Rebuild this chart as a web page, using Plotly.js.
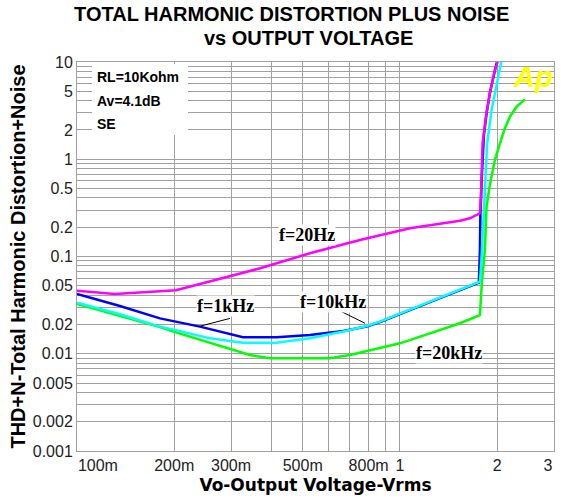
<!DOCTYPE html>
<html><head><meta charset="utf-8">
<script src="https://cdn.plot.ly/plotly-3.0.1.min.js"></script>
<style>html,body{margin:0;padding:0;background:#fff;}#chart{width:568px;height:499px;}</style>
</head><body><div id="chart"></div>
<script>
// ---- axis grid and tick labels ----
const xGridVals = [0.1,0.2,0.3,0.4,0.5,0.6,0.7,0.8,0.9,1,2,3];
// label anchor values (first/last nudged inward as in the reference)
const xLabelVals = [0.1161,0.2,0.3,0.5,0.8,1,2,2.872];
const xLabelText = ["100m","200m","300m","500m","800m","1","2","3"];
const yTickVals = [0.001,0.002,0.003,0.004,0.005,0.006,0.007,0.008,0.009,
                   0.01,0.02,0.03,0.04,0.05,0.06,0.07,0.08,0.09,
                   0.1,0.2,0.3,0.4,0.5,0.6,0.7,0.8,0.9,
                   1,2,3,4,5,6,7,8,9,10];
const yTickText = ["0.001","0.002","","","0.005","","","","",
                   "0.01","0.02","","","0.05","","","","",
                   "0.1","0.2","","","0.5","","","","",
                   "1","2","","","5","","","","",
                   "10"];

// ---- series (Vrms, %) ----
const f20Hz_x = [0.1,0.131,0.2025,0.258,0.369,0.526,0.752,1.074,1.534,1.647,1.769,1.781,1.790,1.803,1.846,1.899,1.968,2.016];
const f20Hz_y = [0.0445,0.0412,0.0450,0.0551,0.0756,0.108,0.148,0.195,0.233,0.247,0.278,0.40,0.641,1.46,2.74,4.77,8.27,10.5];

const f1k_x = [0.1,0.1358,0.1807,0.2403,0.3265,0.4151,0.5263,0.6677,0.7888,0.8673,1.2385,1.534,1.756,1.769,1.775,1.794,1.820,1.859,1.899,1.954,1.997];
const f1k_y = [0.0412,0.0310,0.0231,0.0190,0.0148,0.0148,0.0156,0.0171,0.0191,0.0212,0.0340,0.0452,0.0540,0.1166,0.267,0.689,1.78,3.13,4.80,7.35,10.0];

const f10k_x = [0.1,0.1358,0.1807,0.2025,0.2581,0.3265,0.4151,0.5263,0.6677,0.7888,0.8673,1.2385,1.534,1.769,1.788,1.794,1.833,1.863,1.922,1.993,2.065];
const f10k_y = [0.0335,0.0255,0.0190,0.0175,0.0144,0.0130,0.0130,0.0144,0.0169,0.0193,0.0214,0.0343,0.0456,0.0551,0.0920,0.1166,0.641,1.459,3.21,6.04,10.5];

const f20k_x = [0.1,0.1358,0.1807,0.2025,0.2581,0.3432,0.3960,0.6070,0.7002,1.0,1.2385,1.534,1.769,1.781,1.794,1.833,1.855,1.899,1.968,2.040,2.114,2.191,2.298,2.438];
const f20k_y = [0.0325,0.0245,0.0188,0.0166,0.0129,0.0097,0.0090,0.0090,0.0097,0.0128,0.0162,0.0206,0.0250,0.0421,0.0547,0.1166,0.325,0.543,0.982,1.459,2.08,2.74,3.47,4.13];

const seriesNames = ["f=1kHz","f=20kHz","f=10kHz","f=20Hz"];
const seriesColors = ["#0000ff","#00ff00","#00ffff","#ff00ff"];
const seriesX = [f1k_x,f20k_x,f10k_x,f20Hz_x];
const seriesY = [f1k_y,f20k_y,f10k_y,f20Hz_y];

const traces = seriesNames.map((n,i)=>({
  type:'scatter', mode:'lines', name:n, x:seriesX[i], y:seriesY[i],
  line:{color:seriesColors[i], width:2.5}, showlegend:false, hoverinfo:'skip'
}));

const gridC = '#a0a0a0';
const tickFont = {family:'Liberation Sans, Arial, sans-serif', size:16, color:'#222'};
const lblFont = {family:'Liberation Serif, Times New Roman, serif', size:18, color:'#000', weight:'bold'};
const infoFont = {family:'Liberation Sans, Arial, sans-serif', size:14, color:'#000', weight:'bold'};
const titleFont = {family:'Liberation Sans, Arial, sans-serif', size:20, color:'#000', weight:'bold'};

const layout = {
  width:568, height:499,
  margin:{l:77, r:14, t:62, b:48, pad:0},
  paper_bgcolor:'#fff', plot_bgcolor:'#fff',
  title:{text:'TOTAL HARMONIC DISTORTION PLUS NOISE', x:0.5135, xref:'container', xanchor:'center',
         y:0.972, yref:'container', yanchor:'middle', font:titleFont},
  xaxis:{type:'log', range:[-1, Math.log10(3)], tickmode:'array', tickvals:xLabelVals, ticktext:xLabelText,
         tickfont:tickFont, ticks:'', showgrid:false,
         minor:{tickmode:'array', tickvals:xGridVals, showgrid:true, gridcolor:gridC, gridwidth:1, ticks:''},
         showline:true, linecolor:gridC, linewidth:1, mirror:true, automargin:false,
         title:{text:'Vo-Output Voltage-Vrms', standoff:5,
                font:{family:'DejaVu Sans, Verdana, sans-serif', size:17, color:'#000', weight:'bold'}}},
  yaxis:{type:'log', range:[-3, 1], tickmode:'array', tickvals:yTickVals, ticktext:yTickText,
         tickfont:tickFont, ticks:'', showgrid:true, gridcolor:gridC, gridwidth:1,
         showline:true, linecolor:gridC, linewidth:1, mirror:true, automargin:false,
         title:{text:'THD+N-Total Harmonic Distortion+Noise', standoff:1,
                font:{family:'Liberation Sans, Arial, sans-serif', size:20, color:'#000', weight:'bold'}}},
  shapes:[
    {type:'rect', xref:'paper', yref:'paper', x0:0.0314, x1:0.2327, y0:0.8123, y1:0.9949,
     fillcolor:'#fff', line:{width:0}, layer:'above'},
    {type:'line', xref:'x', yref:'y', x0:0.2977, y0:0.0231, x1:0.2374, y1:0.0190, line:{color:'#000', width:1}},
    {type:'line', xref:'x', yref:'y', x0:0.629, y0:0.0293, x1:0.779, y1:0.0206, line:{color:'#000', width:1}}
  ],
  annotations:[
    {text:'vs OUTPUT VOLTAGE', xref:'paper', yref:'paper', x:0.4843, y:1.0609, showarrow:false,
     xanchor:'center', yanchor:'middle', font:titleFont},
    {text:'RL=10Kohm', xref:'paper', yref:'paper', x:0.0377, y:0.9622, showarrow:false, xanchor:'left', yanchor:'middle', font:infoFont},
    {text:'Av=4.1dB', xref:'paper', yref:'paper', x:0.0377, y:0.8985, showarrow:false, xanchor:'left', yanchor:'middle', font:infoFont},
    {text:'SE', xref:'paper', yref:'paper', x:0.0377, y:0.8406, showarrow:false, xanchor:'left', yanchor:'middle', font:infoFont},
    {text:'f=20Hz', xref:'paper', yref:'paper', x:0.4832, y:0.5553, showarrow:false, xanchor:'center', yanchor:'middle', font:lblFont, bgcolor:'#fff', borderpad:0},
    {text:'f=1kHz', xref:'paper', yref:'paper', x:0.3103, y:0.3715, showarrow:false, xanchor:'center', yanchor:'middle', font:lblFont, bgcolor:'#fff', borderpad:0},
    {text:'f=10kHz', xref:'paper', yref:'paper', x:0.5377, y:0.3843, showarrow:false, xanchor:'center', yanchor:'middle', font:lblFont, bgcolor:'#fff', borderpad:0},
    {text:'f=20kHz', xref:'paper', yref:'paper', x:0.7799, y:0.2519, showarrow:false, xanchor:'center', yanchor:'middle', font:lblFont, bgcolor:'#fff', borderpad:0},
    {text:'Ap', xref:'paper', yref:'paper', x:0.956, y:0.9614, showarrow:false, xanchor:'center', yanchor:'middle',
     font:{family:'Liberation Sans, Arial, sans-serif', size:29, color:'#ffff00', weight:'bold', style:'italic'}}
  ]
};

Plotly.newPlot('chart', traces, layout, {displayModeBar:false, staticPlot:true});
</script>
</body></html>
